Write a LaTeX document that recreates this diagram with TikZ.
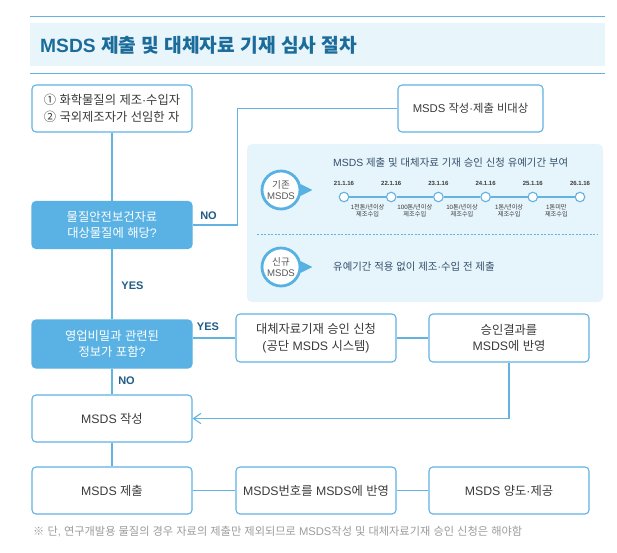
\documentclass[tikz,border=0pt]{standalone}
\usepackage{fontspec}
\setmainfont{Liberation Sans}
\newfontfamily\krfont{Noto Sans CJK KR}
\usetikzlibrary{arrows.meta,calc}

% Hangul (and a few symbols) in Noto Sans CJK KR, Latin in Liberation Sans
\XeTeXinterchartokenstate=1
\newXeTeXintercharclass\hgclass
\newcount\hgc
\hgc="AC00
\loop \XeTeXcharclass\hgc=\hgclass \advance\hgc by 1 \ifnum\hgc<"D7A4 \repeat
\XeTeXcharclass"2460=\hgclass
\XeTeXcharclass"2461=\hgclass
\XeTeXcharclass"203B=\hgclass
\XeTeXinterchartoks 0 \hgclass={\krfont}
\XeTeXinterchartoks 4095 \hgclass={\krfont}
\XeTeXinterchartoks \hgclass 0={\rmfamily}
\XeTeXinterchartoks \hgclass 4095={\rmfamily}

\definecolor{lnblue}{HTML}{62B2E2}
\definecolor{askblue}{HTML}{5AB2E4}
\definecolor{ringblue}{HTML}{58B1E3}
\definecolor{bandblue}{HTML}{E8F6FC}
\definecolor{panblue}{HTML}{E6F4FB}
\definecolor{titblue}{HTML}{1B6B9B}
\definecolor{yndark}{HTML}{1F5C86}
\definecolor{txtgray}{HTML}{3A3A3A}
\definecolor{notegray}{HTML}{9C9C9C}
\definecolor{subslate}{HTML}{34506B}

\begin{document}
\begin{tikzpicture}[
  x=1pt, y=-1pt,
  box/.style  ={draw=lnblue,line width=1.1pt,rounded corners=4pt,fill=white,align=center,
                text=txtgray,font=\fontsize{12.3}{16.5}\selectfont,inner sep=0,
                minimum width=160pt,minimum height=47pt},
  ask/.style  ={box,fill=askblue,draw=askblue,text=white},
  ln/.style   ={draw=lnblue,line width=1.1pt},
  arr/.style  ={ln,-{Straight Barb[length=2.6mm,width=3.6mm]}},
  yn/.style   ={font=\bfseries\fontsize{11}{12}\selectfont,text=yndark,inner sep=0},
  ring/.style ={circle,draw=ringblue,line width=2.8pt,fill=white,minimum size=38pt,inner sep=0,
                align=center,text=txtgray!85,font=\fontsize{9.6}{11}\selectfont},
  mile/.style ={circle,draw=lnblue,line width=1.1pt,fill=white,minimum size=9.5pt,inner sep=0},
  mdate/.style={font=\bfseries\fontsize{6}{7}\selectfont,text=txtgray,inner sep=0},
  mband/.style={align=center,font=\fontsize{6.2}{7}\selectfont,text=txtgray,inner sep=0},
  lab/.style  ={anchor=west,inner sep=0,text=subslate,font=\fontsize{10.4}{12}\selectfont},
]
\useasboundingbox (0,0) rectangle (617,552);
\fill[white] (0,0) rectangle (617,552);

% ----------------------------------------------------------- title band
\fill[bandblue] (30,23) rectangle (605,66);
\draw[lnblue,line width=1.6pt] (30,16.5) -- (605,16.5);
\draw[lnblue,line width=1.6pt] (30,73.5) -- (605,73.5);
\node[anchor=west,inner sep=0,text=titblue,font=\bfseries\fontsize{19.2}{21}\selectfont] (title)
  at (40,45) {MSDS 제출 및 대체자료 기재 심사 절차};

% ----------------------------------------------------------- grace period panel
\node[fill=panblue,rounded corners=5pt,minimum width=356pt,minimum height=158pt,inner sep=0] (pan)
  at (425,223) {};
\node[ring] (old) at (281,190) {기존\\MSDS};
\node[ring] (new) at (281,267) {신규\\MSDS};
\foreach \r in {old,new} {
  \fill[ringblue] ($(\r.east)+(-1,-6)$) -- ($(\r.east)+(11,0)$) -- ($(\r.east)+(-1,6)$) -- cycle;
}
\node[lab] (hold) at (333,163) {MSDS 제출 및 대체자료 기재 승인 신청 유예기간 부여};
\node[lab] (nohold) at (333,267) {유예기간 적용 없이 제조·수입 전 제출};

% six dates on the time line
\foreach \i/\d in {0/21,1/22,2/23,3/24,4/25,5/26} {
  \node[mile] (m\i) at (344+47.2*\i, 197) {};
  \node[mdate] (d\i) at (344+47.2*\i, 183) {\d.1.16};
}
\foreach \i/\j in {0/1,1/2,2/3,3/4,4/5} { \draw[ln] (m\i.east) -- (m\j.west); }
\foreach \i/\t in {0/{1천톤/년이상},1/{100톤/년이상},2/{10톤/년이상},3/{1톤/년이상},4/{1톤미만}} {
  \node[mband] (b\i) at (367.6+47.2*\i, 210.5) {\t\\제조수입};
}
\draw[lnblue,line width=0.6pt,dash pattern=on 2pt off 1.5pt] (257,234) -- (597,234);

% ----------------------------------------------------------- flow boxes
\node[box,align=left] (src) at (112,108.5) {① 화학물질의 제조·수입자\\② 국외제조자가 선임한 자};
\node[box,minimum width=145pt,font=\fontsize{11.3}{16}\selectfont] (none) at (470.5,108.5)
  {MSDS 작성·제출 비대상};
\node[ask] (q1) at (112,225) {물질안전보건자료\\대상물질에 해당?};
\node[ask,minimum height=48pt] (q2) at (112,344) {영업비밀과 관련된\\정보가 포함?};
\node[box,minimum height=48pt] (alt) at (316,338) {대체자료기재 승인 신청\\(공단 MSDS 시스템)};
\node[box,minimum height=48pt] (res) at (509,338) {승인결과를\\MSDS에 반영};
\node[box] (wr)   at (112,418.5) {MSDS 작성};
\node[box] (sub)  at (112,490.5) {MSDS 제출};
\node[box] (num)  at (316,490.5) {MSDS번호를 MSDS에 반영};
\node[box] (dist) at (509,490.5) {MSDS 양도·제공};

% ----------------------------------------------------------- connectors
\draw[ln] (src) -- (q1);
\draw[ln] (q1.east) -- ++(45,0) |- (none.west);
\draw[ln] (q1) -- (q2);
\draw[ln] (q2.east |- alt.west) -- (alt.west);
\draw[ln] (alt) -- (res);
\draw[arr] (res.south) |- (wr.east);
\draw[ln] (q2) -- (wr);
\draw[ln] (wr) -- (sub);
\draw[ln] (sub) -- (num);
\draw[ln] (num) -- (dist);

\node[yn] (no1)  at (208.5,216) {NO};
\node[yn] (yes1) at (132.5,286) {YES};
\node[yn] (yes2) at (208,327) {YES};
\node[yn] (no2)  at (126.5,381) {NO};

% ----------------------------------------------------------- footnote
\node[anchor=west,inner sep=0,text=notegray,font=\fontsize{11.2}{12}\selectfont] (fn) at (33,532)
  {※ 단, 연구개발용 물질의 경우 자료의 제출만 제외되므로 MSDS작성 및 대체자료기재 승인 신청은 해야함};

\end{tikzpicture}
\end{document}
